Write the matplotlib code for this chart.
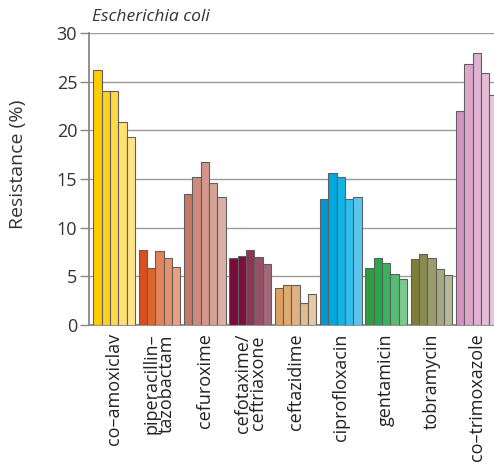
import matplotlib
matplotlib.use("Agg")
import matplotlib.pyplot as plt
import numpy as np

plt.rcParams['font.family'] = ['Open Sans', 'DejaVu Sans']

categories = ["co–amoxiclav", "piperacillin–\ntazobactam", "cefuroxime",
              "cefotaxime/\nceftriaxone", "ceftazidime", "ciprofloxacin",
              "gentamicin", "tobramycin", "co–trimoxazole"]

co_amoxiclav = [26.2, 24.05, 24.0, 20.9, 19.3]
pip_tazo = [7.75, 5.9, 7.6, 6.9, 5.95]
cefuroxime = [13.5, 15.25, 16.75, 14.6, 13.1]
cefotaxime = [6.9, 7.1, 7.7, 7.0, 6.3]
ceftazidime = [3.85, 4.1, 4.1, 2.3, 3.15]
ciprofloxacin = [12.9, 15.6, 15.25, 12.9, 13.2]
gentamicin = [5.85, 6.9, 6.35, 5.25, 4.7]
tobramycin = [6.8, 7.3, 6.9, 5.8, 5.1]
co_trimoxazole = [21.95, 26.8, 27.9, 25.85, 23.6]

values = [co_amoxiclav, pip_tazo, cefuroxime, cefotaxime, ceftazidime,
          ciprofloxacin, gentamicin, tobramycin, co_trimoxazole]

colors = [
    ["#FFCC00", "#FFD21F", "#FFDA45", "#FFE070", "#FFE48A"],
    ["#DC4E1E", "#E0652A", "#E4825A", "#E6906C", "#EAA080"],
    ["#C57868", "#CE8A7C", "#D4968A", "#D6A196", "#DBB0A6"],
    ["#7A0A3A", "#7E0E40", "#8C3556", "#985068", "#A06878"],
    ["#DCA060", "#DEAB72", "#E0B080", "#E2BC8E", "#E8C9A0"],
    ["#0098D4", "#00A8E0", "#10B4E6", "#30BEEA", "#5AC6EE"],
    ["#2E9C40", "#22AA48", "#36B45C", "#58BC74", "#7CC88E"],
    ["#7E7E38", "#8A8A52", "#9C9C6A", "#A8A880", "#B4B894"],
    ["#D294BE", "#DCA6CC", "#E0B2D2", "#E4BCD8", "#E8C6DE"],
]

fig = plt.figure(figsize=(4.94, 4.65), dpi=100)
ax = fig.add_axes([89/494, 1-325/465, (502-89)/494, (325-33)/465])

bw = 0.183
for i, (vals, cols) in enumerate(zip(values, colors)):
    for j, (v, c) in enumerate(zip(vals, cols)):
        x = i - 2*bw + j*bw
        ax.bar(x, v, width=bw, color=c, edgecolor="#5f5f5f", linewidth=0.8, zorder=3)

ax.set_xlim(-0.553, 8.553)
ax.set_ylim(0, 30)
ax.set_yticks([0, 5, 10, 15, 20, 25, 30])
ax.yaxis.grid(True, color="#9a9a9a", linewidth=1.0, zorder=0)
ax.set_axisbelow(True)
for s in ["top", "right"]:
    ax.spines[s].set_visible(False)
ax.spines["left"].set_color("#888888")
ax.spines["left"].set_linewidth(1.3)
ax.spines["bottom"].set_color("#888888")
ax.spines["bottom"].set_linewidth(1.3)
ax.tick_params(axis="y", length=6.5, width=1, color="#888888", labelsize=13, pad=2, labelcolor="#333333")
ax.set_xticks(range(len(categories)))
ax.set_xticklabels(categories, rotation=90, fontsize=13, linespacing=0.8, color="#222222", va="top")
ax.tick_params(axis="x", length=0, pad=6)
ax.set_ylabel("Resistance (%)", fontsize=14, color="#333333")
ax.yaxis.set_label_coords(-0.150, 0.55)
fig.text(92/494, 1-17/465, "Escherichia coli", fontsize=12.6, style="italic",
         ha="left", va="center", color="#333333")

fig.savefig("out.png", dpi=100)
